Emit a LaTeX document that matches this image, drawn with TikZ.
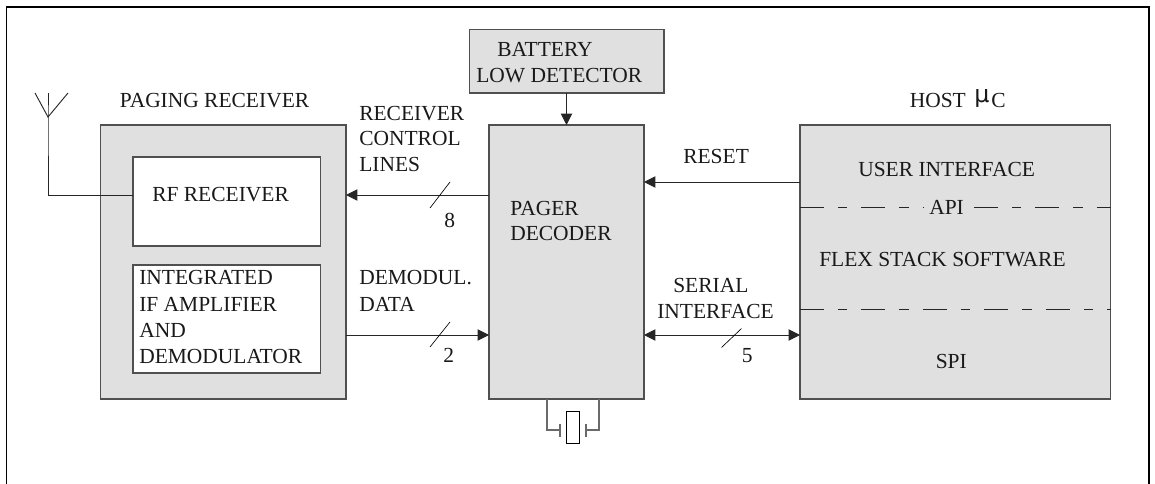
\documentclass[tikz,border=0pt]{standalone}
\usepackage{fontspec}
\setmainfont{Liberation Serif}
\usetikzlibrary{arrows.meta}
\definecolor{boxgray}{HTML}{E0E0E0}
\definecolor{linegray}{HTML}{505050}
\tikzset{
  x=0.75pt,y=-0.75pt,
  frameline/.style={draw=black,line width=1.2pt},
  block/.style={draw=linegray,fill=boxgray,line width=0.8pt},
  innerblock/.style={draw=linegray,fill=white,line width=0.8pt},
  txt/.style={font=\fontsize{16.1}{16.1}\selectfont,inner sep=0pt,anchor=base west,text=black!90},
  conn/.style={draw=black!85,line width=0.7pt},
  arrowed/.style={conn,-{Triangle[length=8.5pt,width=8.5pt]}},
  biarrow/.style={conn,{Triangle[length=8.5pt,width=8.5pt]}-{Triangle[length=8.5pt,width=8.5pt]}},
  slash/.style={draw=black,line width=0.5pt},
  softdash/.style={draw=black!85,line width=0.7pt,dash pattern=on 18pt off 10.5pt on 7pt off 10.6pt},
  leadline/.style={draw=linegray!85,line width=0.8pt},
}
\begin{document}
\begin{tikzpicture}
\useasboundingbox (0,0) rectangle (1155,484);
\draw[frameline] (6.5,490) -- (6.5,7) -- (1149,7) -- (1149,490);
% blocks
\path[block] (100.5,125) rectangle (346,399);
\coordinate (prE) at (346,195);
\coordinate (prED) at (346,335);
\path[innerblock] (133,157) rectangle (320.5,246);
\coordinate (rfW) at (133,195);
\path[innerblock] (133,265) rectangle (320.5,373);
\path[block] (489,125) rectangle (644,399);
\coordinate (pdW) at (489,195);
\coordinate (pdWD) at (489,335);
\coordinate (pdE) at (644,182);
\coordinate (pdES) at (644,335);
\coordinate (pdN) at (566.5,125);
\coordinate (xa) at (547,399);
\coordinate (xb) at (599,399);
\path[block] (469.5,29.5) rectangle (664,93);
\coordinate (batS) at (566.5,93);
\path[block] (800,125) rectangle (1110.5,399);
\coordinate (hoW) at (800,182);
\coordinate (hoWS) at (800,335);
% dashed
\coordinate (d1a) at (800,207); \coordinate (d1c) at (923.7,207);
\coordinate (d1d) at (974,207); \coordinate (d1b) at (1110.5,207);
\coordinate (d2a) at (800,309); \coordinate (d2b) at (1110.5,309);
\draw[softdash] (d1a) -- (d1c);
\draw[softdash] (d1d) -- (d1b);
\draw[softdash] (d2a) -- (d2b);
\node[txt] (api) at (929,215) {API};
% connectors
\draw[arrowed] (batS) -- (pdN);
\draw[arrowed] (pdW) -- (prE);
\draw[arrowed] (prED) -- (pdWD);
\draw[arrowed] (hoW) -- (pdE);
\draw[biarrow] (pdES) -- (hoWS);
% antenna
\coordinate (antT) at (48,117);
\draw[conn] (rfW) -- (48,195) -- (antT) -- (48,93);
\draw[conn] (35,93) -- (antT) -- (68,93);
% crystal
\coordinate (pl1) at (560,430);
\coordinate (pl2) at (586,430);
\draw[leadline] (xa) -- (547,430) -- (pl1);
\draw[leadline] (xb) -- (599,430) -- (pl2);
\draw[leadline] (560,424) -- (560,437);
\draw[leadline] (586,424) -- (586,437);
\draw[draw=black,fill=white,line width=0.7pt] (566.5,411.5) rectangle (579.5,443.5);
% slashes
\draw[slash] (430,208) -- (450,182);
\draw[slash] (430,347) -- (450,322);
\draw[slash] (721.5,347.5) -- (741.5,328.5);
% labels
\node[txt] (l1) at (119.5,107.5) {PAGING RECEIVER};
\node[txt] (l2) at (359,121) {RECEIVER};
\node[txt] (l3) at (359,146) {CONTROL};
\node[txt] (l4) at (359,171.5) {LINES};
\node[txt] (l5) at (152,202) {RF RECEIVER};
\node[txt] (l6) at (139,285) {INTEGRATED};
\node[txt] (l7) at (139,311) {IF AMPLIFIER};
\node[txt] (l8) at (139,337) {AND};
\node[txt] (l9) at (139,363) {DEMODULATOR};
\node[txt] (l10) at (359,285) {DEMODUL.};
\node[txt] (l11) at (359,311) {DATA};
\node[txt] (l12) at (497,56.5) {BATTERY};
\node[txt] (l13) at (476,82.5) {LOW DETECTOR};
\node[txt] (l14) at (510,216) {PAGER};
\node[txt] (l15) at (510,241) {DECODER};
\node[txt] (l16) at (683,164) {RESET};
\node[txt] (l17) at (673,292) {SERIAL};
\node[txt] (l18) at (657,318) {INTERFACE};
\node[txt] (l19) at (858,177) {USER INTERFACE};
\node[txt] (l20) at (819,267) {FLEX STACK SOFTWARE};
\node[txt] (l21) at (935.5,368) {SPI};
\node[txt] (l22) at (909.5,107.5) {HOST};
\node[txt] (l23) at (974,103) {\fontspec{DejaVu Sans}\fontsize{17.8}{17.8}\selectfont μ};
\node[txt] (l24) at (991,107.5) {C};
\node[txt] (n8) at (444,228) {8};
\node[txt] (n2) at (443,362) {2};
\node[txt] (n5) at (741.5,362.5) {5};
\end{tikzpicture}
\end{document}
